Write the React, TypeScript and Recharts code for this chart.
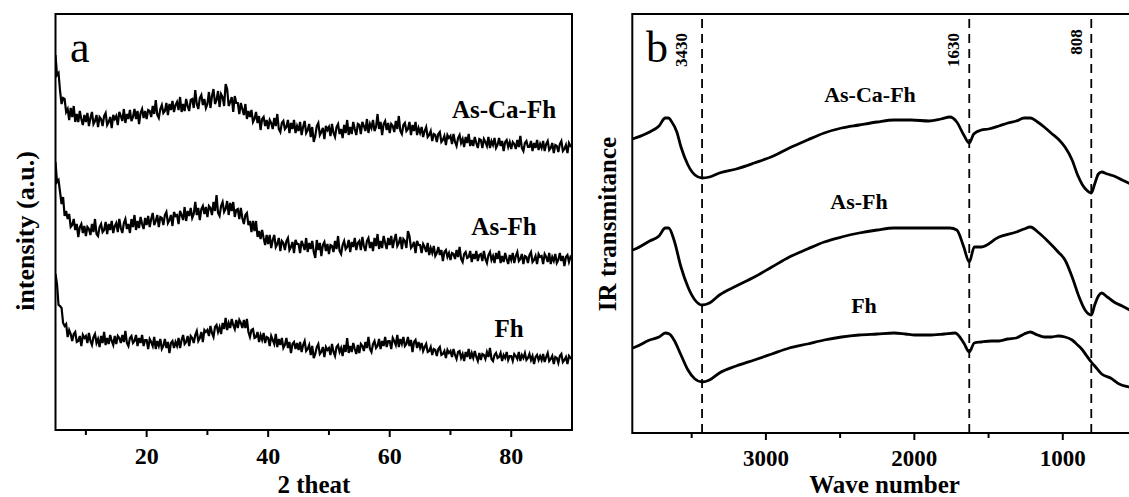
import React from 'react';
import { LineChart, Line, XAxis, YAxis, ReferenceArea, ReferenceLine } from 'recharts';

const FONT = '"Liberation Serif", "Times New Roman", serif';

// (a) XRD scans, 2θ from 5° to 90° sampled every 0.25° (one row = 5°)
const twoThetaStart = 5;
const twoThetaStep = 0.25;

const xrdAsCaFh = [
  375, 355, 357, 339, 326, 332, 331, 318, 321, 310, 322, 313, 324, 308, 316, 308, 319, 311, 305, 315,
  308, 317, 304, 312, 318, 306, 309, 315, 303, 313, 311, 304, 314, 317, 305, 308, 313, 302, 315, 311,
  314, 305, 318, 314, 309, 321, 307, 316, 311, 320, 309, 313, 321, 311, 319, 306, 317, 321, 312, 319,
  311, 320, 319, 313, 324, 316, 330, 315, 312, 321, 325, 317, 319, 327, 315, 326, 320, 329, 318, 325,
  328, 320, 333, 318, 326, 319, 331, 324, 319, 330, 331, 322, 340, 326, 321, 332, 335, 325, 331, 322,
  326, 338, 322, 334, 341, 326, 330, 339, 323, 336, 333, 324, 346, 341, 324, 328, 333, 318, 334, 327,
  327, 316, 327, 321, 315, 326, 311, 319, 313, 320, 308, 311, 318, 307, 314, 300, 311, 313, 304, 310,
  301, 310, 307, 301, 312, 304, 316, 301, 298, 307, 309, 301, 303, 310, 297, 307, 301, 310, 297, 304,
  299, 308, 295, 303, 309, 297, 300, 306, 293, 303, 288, 294, 304, 307, 295, 298, 302, 291, 304, 300,
  303, 294, 306, 297, 293, 303, 306, 296, 301, 292, 305, 297, 310, 295, 303, 296, 308, 301, 295, 306,
  305, 296, 308, 304, 299, 311, 297, 306, 302, 310, 299, 303, 316, 301, 308, 295, 306, 309, 300, 307,
  297, 306, 304, 298, 309, 301, 314, 299, 296, 305, 307, 299, 301, 308, 295, 305, 299, 308, 295, 302,
  297, 303, 293, 299, 303, 293, 295, 299, 289, 296, 295, 288, 296, 298, 288, 290, 294, 285, 295, 292,
  294, 286, 296, 288, 284, 292, 295, 287, 291, 283, 293, 287, 296, 284, 290, 284, 293, 287, 282, 291,
  290, 282, 291, 288, 284, 293, 282, 289, 285, 292, 282, 285, 292, 284, 289, 279, 288, 290, 283, 288,
  281, 288, 286, 281, 290, 283, 294, 282, 279, 287, 289, 283, 283, 289, 279, 287, 282, 290, 280, 286,
  282, 289, 279, 286, 289, 280, 282, 287, 277, 285, 284, 278, 286, 289, 279, 281, 285, 277, 287, 284,
  283,
];

const xrdAsFh = [
  268, 248, 250, 238, 226, 233, 214, 219, 211, 216, 203, 205, 211, 200, 206, 193, 203, 206, 197, 204,
  194, 203, 201, 195, 206, 198, 211, 196, 194, 203, 206, 198, 200, 208, 196, 206, 200, 209, 197, 204,
  207, 198, 211, 202, 197, 207, 211, 201, 206, 197, 211, 203, 215, 200, 209, 202, 213, 206, 201, 212,
  205, 214, 203, 211, 217, 205, 209, 215, 203, 213, 212, 205, 215, 218, 207, 210, 215, 204, 218, 214,
  215, 206, 219, 215, 210, 223, 209, 219, 214, 222, 212, 216, 228, 215, 222, 210, 221, 224, 216, 223,
  213, 224, 222, 215, 228, 219, 235, 217, 214, 224, 228, 218, 221, 229, 215, 227, 219, 228, 213, 220,
  221, 211, 222, 212, 206, 215, 217, 205, 209, 198, 209, 199, 209, 193, 199, 191, 200, 192, 185, 195,
  186, 195, 182, 190, 195, 183, 186, 192, 179, 189, 187, 180, 189, 192, 180, 183, 188, 177, 190, 186,
  186, 177, 189, 185, 180, 192, 178, 187, 181, 189, 178, 172, 190, 180, 187, 174, 185, 188, 179, 186,
  176, 185, 184, 178, 189, 181, 194, 179, 176, 185, 189, 181, 183, 190, 178, 188, 183, 192, 180, 187,
  189, 180, 193, 184, 179, 189, 192, 182, 188, 179, 192, 184, 196, 181, 189, 182, 194, 187, 181, 192,
  185, 194, 182, 190, 196, 184, 187, 193, 181, 191, 189, 182, 199, 194, 182, 184, 188, 177, 189, 185,
  185, 177, 186, 183, 178, 187, 175, 182, 177, 184, 174, 177, 183, 175, 180, 169, 178, 180, 173, 177,
  170, 177, 176, 171, 180, 173, 183, 171, 168, 176, 178, 172, 173, 179, 168, 176, 171, 179, 169, 175,
  176, 169, 179, 171, 167, 175, 178, 170, 174, 167, 177, 171, 179, 167, 174, 168, 177, 171, 166, 175,
  170, 177, 167, 174, 178, 169, 171, 176, 166, 174, 173, 167, 175, 178, 168, 170, 174, 166, 176, 173,
  174, 166, 176, 173, 168, 177, 166, 173, 169, 176, 167, 170, 177, 169, 174, 164, 173, 175, 168, 173,
  171,
];

const xrdFh = [
  156, 146, 125, 124, 122, 107, 104, 106, 93, 100, 96, 89, 96, 98, 88, 89, 94, 84, 95, 92,
  94, 87, 97, 89, 85, 93, 96, 87, 91, 83, 94, 87, 98, 85, 92, 86, 95, 89, 85, 94,
  86, 94, 92, 87, 95, 88, 99, 87, 84, 92, 94, 87, 89, 95, 84, 92, 87, 95, 84, 90,
  90, 81, 91, 88, 84, 93, 81, 89, 84, 91, 81, 84, 91, 82, 88, 77, 87, 89, 82, 88,
  84, 92, 82, 90, 95, 86, 88, 94, 84, 94, 92, 87, 95, 99, 89, 92, 98, 88, 100, 98,
  100, 94, 104, 97, 93, 103, 105, 98, 103, 96, 107, 101, 112, 100, 107, 102, 111, 105, 101, 110,
  102, 110, 107, 102, 110, 102, 111, 98, 93, 100, 101, 92, 93, 98, 88, 95, 90, 97, 87, 93,
  92, 84, 94, 90, 86, 96, 83, 91, 85, 92, 82, 85, 92, 82, 88, 77, 86, 88, 81, 87,
  80, 88, 78, 85, 89, 79, 81, 85, 75, 84, 72, 76, 83, 86, 76, 78, 83, 73, 83, 80,
  82, 75, 86, 78, 74, 83, 85, 78, 82, 74, 85, 78, 92, 77, 84, 78, 87, 81, 76, 85,
  77, 86, 84, 79, 88, 82, 93, 81, 78, 86, 89, 82, 84, 91, 81, 89, 84, 93, 83, 89,
  89, 81, 92, 89, 85, 95, 83, 91, 86, 93, 84, 86, 93, 84, 90, 78, 88, 90, 82, 88,
  82, 87, 79, 83, 86, 78, 79, 83, 75, 81, 80, 74, 81, 83, 75, 76, 79, 72, 80, 77,
  79, 73, 81, 75, 71, 78, 79, 72, 76, 69, 78, 73, 81, 71, 77, 72, 79, 73, 69, 77,
  70, 76, 75, 71, 78, 73, 82, 71, 69, 75, 77, 72, 73, 77, 69, 75, 72, 78, 70, 74,
  74, 69, 76, 74, 71, 78, 69, 75, 72, 77, 70, 72, 76, 70, 74, 66, 73, 75, 70, 74,
  70, 76, 68, 73, 77, 69, 71, 74, 66, 73, 72, 67, 74, 76, 68, 70, 73, 66, 74, 72,
  71,
];

const xrdTicks = [10, 20, 30, 40, 50, 60, 70, 80];
const xrdLabelTicks = [20, 40, 60, 80];

// (b) FTIR spectra
const irAsCaFhWn = [3900, 3880, 3783, 3720, 3678, 3655, 3638, 3600, 3572, 3525, 3478, 3430, 3380, 3313, 3200, 3078, 2950, 2842, 2720, 2607, 2490, 2372, 2250, 2137, 2020, 1902, 1820, 1760, 1714, 1667, 1630, 1600, 1549, 1500, 1430, 1370, 1313, 1260, 1219, 1170, 1125, 1079, 1031, 985, 937, 900, 867, 840, 808, 785, 760, 738, 700, 655, 600, 500];
const irAsCaFhT = [294, 295, 301, 307, 315, 315, 312, 301, 286, 268, 258, 255, 256, 260, 264, 270, 277, 285, 293, 300, 305, 308, 311, 313, 313, 312, 314, 316, 311, 298, 290, 299, 303, 304, 307, 310, 312, 315, 315, 311, 306, 300, 294, 286, 273, 258, 248, 243, 240, 249, 259, 261, 259, 257, 253, 246];

const irAsFhWn = [3900, 3880, 3783, 3720, 3678, 3655, 3619, 3572, 3525, 3478, 3430, 3380, 3313, 3200, 3078, 2960, 2842, 2720, 2607, 2490, 2372, 2250, 2137, 2020, 1902, 1760, 1714, 1667, 1630, 1596, 1549, 1430, 1313, 1260, 1219, 1160, 1102, 1031, 985, 937, 890, 850, 808, 785, 760, 738, 700, 655, 600, 500];
const irAsFhT = [183, 184, 192, 197, 205, 205, 193, 166, 146, 133, 128, 130, 138, 147, 156, 166, 176, 184, 191, 196, 200, 203, 205, 205, 205, 205, 203, 186, 171, 186, 186, 196, 201, 204, 206, 200, 192, 181, 173, 156, 136, 123, 118, 128, 137, 140, 136, 131, 127, 119];

const irFhWn = [3900, 3880, 3783, 3720, 3678, 3650, 3619, 3572, 3525, 3478, 3430, 3380, 3313, 3200, 3078, 2960, 2842, 2720, 2607, 2490, 2372, 2250, 2137, 2060, 1996, 1902, 1800, 1725, 1667, 1630, 1596, 1549, 1480, 1430, 1370, 1313, 1260, 1219, 1170, 1125, 1079, 1030, 985, 937, 900, 867, 843, 808, 773, 738, 678, 620, 555, 500];
const irFhT = [85, 86, 93, 96, 100, 99, 93, 78, 63, 54, 51, 53, 60, 67, 73, 79, 85, 89, 93, 96, 98, 99, 100, 99, 98, 98, 99, 100, 90, 81, 90, 91, 92, 92, 94, 95, 99, 101, 98, 96, 96, 97, 96, 93, 88, 83, 78, 71, 65, 59, 55, 49, 46, 44];

const irPeaks = [3430, 1630, 808];
const irTicks = [3500, 3000, 2500, 2000, 1500, 1000];
const irLabelTicks = [3000, 2000, 1000];

const xrdData = xrdAsCaFh.map((v, i) => ({
  t: twoThetaStart + i * twoThetaStep,
  asCaFh: v,
  asFh: xrdAsFh[i],
  fh: xrdFh[i],
}));

const toRows = (wn: number[], t: number[]) => wn.map((w, i) => ({ wn: w, t: t[i] }));
const irAsCaFh = toRows(irAsCaFhWn, irAsCaFhT);
const irAsFh = toRows(irAsFhWn, irAsFhT);
const irFh = toRows(irFhWn, irFhT);

function makeTick(labels: number[], labelDy: number, fontSize: number) {
  return (props: any) => {
    const { x, y, payload } = props;
    const major = labels.includes(payload.value);
    return (
      <g>
        <line x1={x} y1={y} x2={x} y2={y + (major ? 7 : 5)} stroke="#000" strokeWidth={2} />
        {major && (
          <text x={x} y={y + labelDy} textAnchor="middle" fontFamily={FONT} fontWeight="bold" fontSize={fontSize} fill="#000">
            {payload.value}
          </text>
        )}
      </g>
    );
  };
}

const bold = { fontFamily: FONT, fontWeight: 'bold' as const, fill: '#000' };

export default function App() {
  return (
    <div style={{ position: 'absolute', left: 0, top: 0, width: 1129, height: 497, overflow: 'hidden', background: '#fff' }}>
      <div style={{ position: 'absolute', left: 0, top: 0 }}>
        <LineChart width={580} height={497} data={xrdData} margin={{ top: 14, right: 8, left: 55.5, bottom: 0 }}>
          <XAxis
            dataKey="t"
            type="number"
            domain={[5, 90]}
            allowDataOverflow
            ticks={xrdTicks}
            height={67}
            tickSize={0}
            tickMargin={0}
            tickLine={false}
            axisLine={false}
            tick={makeTick(xrdLabelTicks, 34, 24)}
          />
          <YAxis hide domain={[0, 416]} allowDataOverflow />
          <Line dataKey="asCaFh" stroke="#000" strokeWidth={2.2} dot={false} isAnimationActive={false} type="linear" />
          <Line dataKey="asFh" stroke="#000" strokeWidth={2.2} dot={false} isAnimationActive={false} type="linear" />
          <Line dataKey="fh" stroke="#000" strokeWidth={2.2} dot={false} isAnimationActive={false} type="linear" />
          <ReferenceArea x1={5} x2={90} y1={0} y2={416} fill="none" stroke="#000" strokeWidth={2} />
        </LineChart>
      </div>

      <div style={{ position: 'absolute', left: 580, top: 0 }}>
        <LineChart width={565} height={497} margin={{ top: 14, right: 8, left: 52.3, bottom: 0 }}>
          <XAxis
            dataKey="wn"
            type="number"
            domain={[500, 3900]}
            reversed
            allowDataOverflow
            ticks={irTicks}
            height={64}
            tickSize={0}
            tickMargin={0}
            tickLine={false}
            axisLine={false}
            tick={makeTick(irLabelTicks, 33, 23)}
          />
          <YAxis hide domain={[0, 419]} allowDataOverflow />
          {irPeaks.map((p) => (
            <ReferenceLine key={p} x={p} stroke="#000" strokeWidth={1.8} strokeDasharray="9 6" />
          ))}
          <Line data={irAsCaFh} dataKey="t" stroke="#000" strokeWidth={2.8} dot={false} isAnimationActive={false} type="monotone" />
          <Line data={irAsFh} dataKey="t" stroke="#000" strokeWidth={2.8} dot={false} isAnimationActive={false} type="monotone" />
          <Line data={irFh} dataKey="t" stroke="#000" strokeWidth={2.8} dot={false} isAnimationActive={false} type="monotone" />
          <ReferenceArea x1={3900} x2={500} y1={0} y2={419} fill="none" stroke="#000" strokeWidth={2} />
        </LineChart>
      </div>

      <svg width={1129} height={497} style={{ position: 'absolute', left: 0, top: 0, pointerEvents: 'none' }}>
        {/* panel a */}
        <text x={70} y={62} fontFamily={FONT} fontSize={44} fill="#000">a</text>
        <text x={504} y={118} textAnchor="middle" fontSize={25} {...bold}>As-Ca-Fh</text>
        <text x={504} y={235} textAnchor="middle" fontSize={25} {...bold}>As-Fh</text>
        <text x={509} y={337} textAnchor="middle" fontSize={25} {...bold}>Fh</text>
        <text transform="translate(25,231) rotate(-90)" textAnchor="middle" dominantBaseline="central" fontSize={26} {...bold}>intensity (a.u.)</text>
        <text x={314} y={493} textAnchor="middle" fontSize={25} {...bold}>2 theat</text>

        {/* panel b */}
        <text x={646} y={62} fontFamily={FONT} fontSize={44} fill="#000">b</text>
        <text x={870} y={102} textAnchor="middle" fontSize={22} {...bold}>As-Ca-Fh</text>
        <text x={859} y={209} textAnchor="middle" fontSize={22} {...bold}>As-Fh</text>
        <text x={864} y={313} textAnchor="middle" fontSize={22} {...bold}>Fh</text>
        <text transform="translate(607,224) rotate(-90)" textAnchor="middle" dominantBaseline="central" fontSize={25} {...bold}>IR transmitance</text>
        <text x={884.5} y={493} textAnchor="middle" fontSize={25} {...bold}>Wave number</text>
        <text transform="translate(681,50) rotate(-90)" textAnchor="middle" dominantBaseline="central" fontSize={17} {...bold}>3430</text>
        <text transform="translate(953,50) rotate(-90)" textAnchor="middle" dominantBaseline="central" fontSize={17} {...bold}>1630</text>
        <text transform="translate(1076,42) rotate(-90)" textAnchor="middle" dominantBaseline="central" fontSize={17} {...bold}>808</text>
      </svg>
    </div>
  );
}
